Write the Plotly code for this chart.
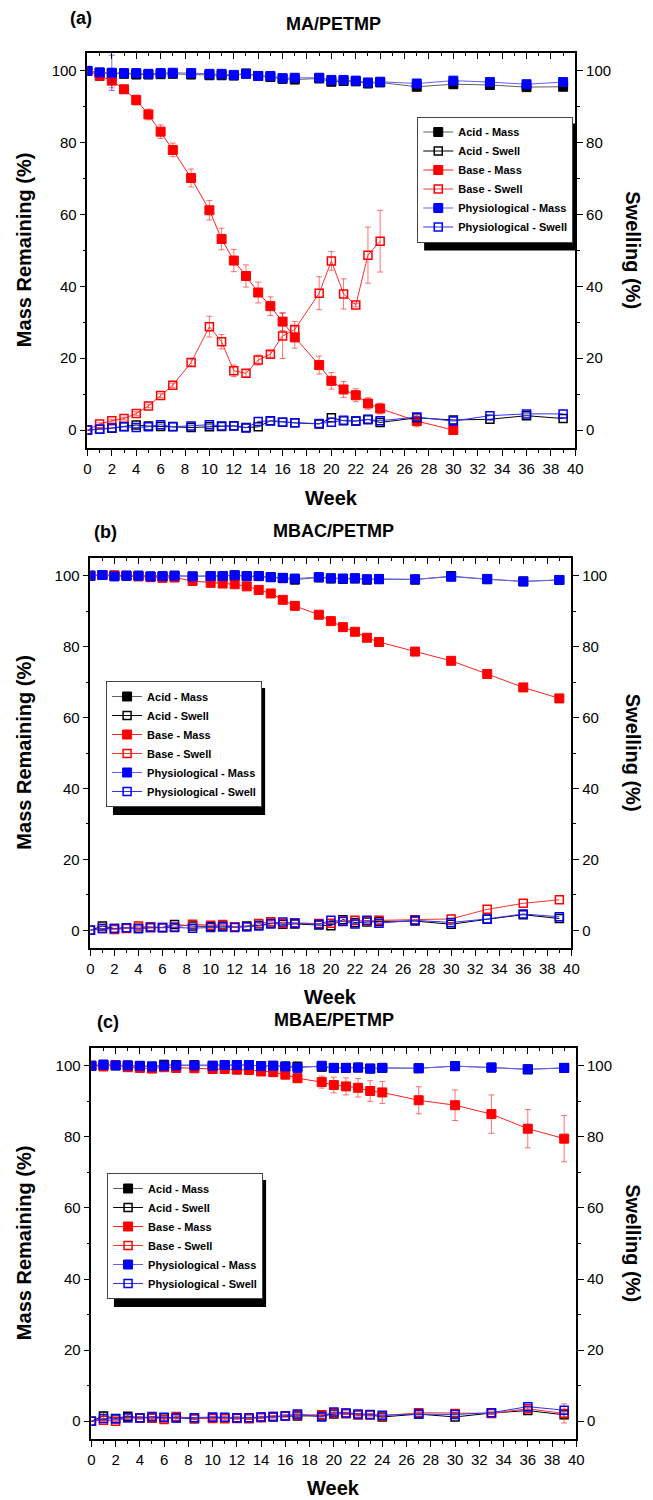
import plotly.graph_objects as go

W, H = 653, 1500

weeks = [0, 1, 2, 3, 4, 5, 6, 7, 8.5, 10, 11, 12, 13, 14, 15, 16, 17, 19, 20, 21, 22, 23, 24, 27, 30, 33, 36, 39]

# ---------------- Panel (a) MA/PETMP ----------------
a_acid_mass = [100, 99.5, 99.3, 99.2, 99.0, 99.0, 99.1, 99.2, 99.0, 98.8, 98.8, 98.7, 99.3, 98.6, 98.3, 97.8, 97.6, 97.9, 97.0, 97.2, 97.1, 96.5, 96.8, 95.6, 96.3, 96.1, 95.5, 95.6]
a_acid_swell = [0, 0.2, 0.5, 1.0, 1.4, 1.1, 1.0, 1.0, 0.7, 0.9, 1.0, 1.2, 0.7, 0.9, 2.6, 2.2, 2.0, 1.7, 3.4, 2.6, 2.5, 3.0, 2.1, 3.4, 2.8, 3.0, 4.0, 3.2]
a_base_mass = [100, 98.6, 97.3, 94.9, 91.9, 87.9, 83.1, 78.0, 70.2, 61.2, 53.2, 47.2, 42.9, 38.3, 34.5, 30.2, 25.8, 18.1, 13.7, 11.3, 9.7, 7.4, 6.0, 2.5, 0, None, None, None]
a_base_mass_err = [0, 0.6, 2.0, 1.0, 1.4, 1.5, 1.9, 1.9, 2.5, 2.7, 3.0, 3.1, 3.1, 2.9, 2.6, 2.5, 3.0, 2.5, 2.3, 2.2, 1.8, 1.6, 1.5, 1.6, 0.3, 0, 0, 0]
a_base_swell = [0, 1.7, 2.6, 3.2, 4.6, 6.7, 9.6, 12.5, 18.8, 28.8, 24.6, 16.5, 15.8, 19.5, 21.1, 26.2, 28.0, 38.1, 47.1, 37.9, 34.8, 48.7, 52.6, None, None, None, None, None]
a_base_swell_err = [0, 0.3, 0.4, 0.4, 0.5, 0.5, 0.5, 0.6, 1.0, 2.9, 2.0, 1.6, 1.0, 1.4, 0.8, 6.3, 2.2, 4.6, 2.6, 4.2, 0.5, 7.8, 8.6, 0, 0, 0, 0, 0]
a_phys_mass = [100, 99.6, 99.5, 99.4, 99.4, 99.2, 99.4, 99.5, 99.4, 99.2, 99.2, 98.9, 99.2, 98.6, 98.6, 98.0, 98.1, 98.1, 97.5, 97.5, 97.3, 96.8, 97.0, 96.5, 97.3, 96.9, 96.3, 96.9]
a_phys_mass_err = [0, 0.3, 4.9, 0.3, 0.3, 0.3, 0.3, 0.3, 0.3, 0.3, 0.3, 0.3, 0.3, 0.3, 0.3, 0.3, 0.3, 0.3, 0.3, 0.3, 0.3, 0.3, 0.3, 0.3, 0.3, 0.3, 0.3, 0.3]
a_phys_swell = [0, 0.2, 0.6, 0.9, 0.7, 0.9, 1.5, 0.9, 1.1, 1.5, 1.1, 1.1, 0.6, 2.4, 2.5, 2.2, 2.0, 1.8, 2.2, 2.7, 2.5, 2.9, 2.6, 3.6, 2.5, 4.0, 4.5, 4.5]

# ---------------- Panel (b) MBAC/PETMP ----------------
b_acid_mass = [100, 100.2, 100.0, 100.0, 100.0, 99.8, 99.8, 100.0, 99.8, 99.9, 99.9, 100.1, 99.9, 99.9, 99.6, 99.3, 98.9, 99.5, 99.2, 99.1, 99.2, 98.9, 99.0, 98.9, 99.9, 99.0, 98.4, 98.8]
b_acid_swell = [0, 1.2, 0.5, 0.7, 0.6, 0.8, 0.8, 1.6, 1.2, 1.1, 1.2, 1.0, 1.2, 1.4, 2.0, 1.7, 1.8, 1.5, 1.3, 3.0, 2.2, 2.3, 2.5, 2.6, 1.7, 3.1, 4.4, 3.3]
b_base_mass = [100, 100.2, 100.1, 100.0, 99.8, 99.6, 99.4, 99.5, 98.5, 98.0, 97.8, 97.6, 97.0, 96.0, 95.0, 93.2, 91.5, 89.0, 87.2, 85.5, 84.2, 82.5, 81.3, 78.6, 76.0, 72.3, 68.5, 65.4]
b_base_mass_err = [0, 0.2, 0.2, 0.2, 0.3, 0.3, 0.3, 0.3, 0.8, 0.8, 1.0, 0.8, 0.8, 1.2, 0.5, 0.4, 0.4, 0.4, 0.4, 0.4, 0.4, 0.4, 0.4, 0.4, 0.4, 0.4, 0.4, 0.4]
b_base_swell = [0, 0.5, 0.2, 0.5, 1.2, 1.0, 0.8, 0.9, 1.7, 1.4, 1.6, 1.0, 1.0, 1.9, 2.4, 1.9, 2.1, 1.9, 2.0, 2.6, 2.8, 2.6, 2.8, 3.0, 3.2, 5.9, 7.6, 8.6]
b_phys_mass = [100, 100.2, 99.8, 100.0, 100.0, 99.8, 99.9, 100.0, 99.8, 99.9, 99.9, 100.1, 99.9, 99.9, 99.6, 99.4, 99.2, 99.6, 99.3, 99.2, 99.3, 99.0, 99.1, 99.0, 99.7, 99.1, 98.4, 98.8]
b_phys_swell = [0, 0.5, 0.5, 0.7, 0.4, 0.8, 0.7, 0.8, 0.6, 0.8, 0.9, 0.8, 1.0, 1.2, 1.8, 2.3, 2.0, 1.7, 2.8, 2.5, 1.8, 2.8, 2.0, 2.8, 2.2, 3.2, 4.6, 3.8]

# ---------------- Panel (c) MBAE/PETMP ----------------
c_acid_mass = [100, 100.3, 100.1, 100.1, 99.9, 99.8, 100.3, 100.2, 100.2, 100.0, 100.2, 100.2, 100.2, 99.9, 100.0, 99.8, 99.8, 99.7, 99.4, 99.4, 99.5, 99.2, 99.4, 99.3, 99.9, 99.5, 99.0, 99.4]
c_acid_swell = [0, 1.5, 0.8, 1.4, 1.0, 0.9, 1.0, 1.0, 0.7, 1.0, 1.0, 1.0, 0.8, 1.1, 1.2, 1.5, 1.5, 1.5, 2.0, 2.2, 1.8, 1.8, 1.2, 2.0, 1.2, 2.3, 3.0, 1.8]
c_acid_swell_err = [0, 1.0, 0.3, 0.3, 0.3, 0.3, 0.3, 0.3, 0.3, 0.3, 0.3, 0.3, 0.3, 0.3, 0.3, 0.3, 0.3, 0.3, 0.3, 0.3, 0.3, 0.3, 0.3, 0.3, 0.3, 0.3, 0.3, 0.5]
c_base_mass = [100, 99.8, 100.2, 99.6, 99.4, 99.2, 99.6, 99.4, 99.3, 99.1, 99.1, 98.9, 98.8, 98.4, 98.2, 97.5, 96.5, 95.4, 94.6, 94.2, 93.8, 92.9, 92.5, 90.3, 88.9, 86.4, 82.3, 79.5]
c_base_mass_err = [0, 0.3, 0.3, 0.3, 0.3, 0.3, 0.3, 0.3, 0.3, 0.3, 0.3, 0.3, 0.3, 0.3, 0.4, 0.8, 1.2, 1.7, 2.2, 2.4, 2.6, 2.9, 3.1, 3.8, 4.3, 5.4, 5.4, 6.5]
c_base_swell = [0, 0.3, 0.0, 1.0, 0.9, 1.0, 0.5, 1.3, 0.8, 0.8, 0.7, 0.8, 0.8, 1.0, 1.3, 1.5, 1.8, 1.8, 2.3, 2.2, 1.8, 1.8, 1.5, 2.4, 2.2, 2.2, 3.5, 2.2]
c_base_swell_err = [0, 0.3, 0.3, 0.3, 0.3, 0.3, 0.3, 0.3, 0.3, 0.3, 0.3, 0.3, 0.3, 0.3, 0.3, 0.3, 0.3, 0.3, 0.3, 0.3, 0.3, 0.3, 0.3, 0.3, 0.3, 0.3, 0.5, 2.7]
c_phys_mass = [100, 100.3, 100.1, 100.1, 100.0, 99.8, 100.0, 100.1, 100.1, 100.0, 100.2, 100.2, 100.2, 99.9, 100.0, 99.8, 99.4, 100.0, 99.4, 99.4, 99.5, 99.2, 99.4, 99.3, 99.9, 99.5, 99.0, 99.4]
c_phys_swell = [0, 0.75, 0.6, 1.0, 0.9, 1.3, 1.1, 0.9, 1.0, 1.2, 1.1, 0.9, 1.0, 1.2, 1.3, 1.5, 2.0, 1.2, 2.6, 2.3, 2.0, 1.9, 1.7, 2.0, 1.9, 2.4, 4.1, 3.1]

titles = ["MA/PETMP", "MBAC/PETMP", "MBAE/PETMP"]
panel_tags = ["(a)", "(b)", "(c)"]
series_names = ["Acid - Mass", "Acid - Swell", "Base - Mass", "Base - Swell",
                "Physiological - Mass", "Physiological - Swell"]

# ---------------- layout geometry (pixels) ----------------
frames = [(85, 582, 53, 448), (88, 578, 558, 948), (89, 583, 1048, 1439)]
legend_box = [(421, 134, 576, 227), (104, 699, 256, 791), (105, 1191, 258, 1283)]
LEG_H = 128
LEG_W = 155
tag_pos = [(78, 18), (103, 532), (106, 1022)]
title_y = [24, 531, 1020]
week_y = [498, 997, 1488]

FONT = "Arial, Liberation Sans, sans-serif"

def px(x):
    return x / W

def py(y):
    return 1 - y / H

fig = go.Figure()

panels = [
    dict(acid_mass=a_acid_mass, acid_swell=a_acid_swell, base_mass=a_base_mass,
         base_swell=a_base_swell, phys_mass=a_phys_mass, phys_swell=a_phys_swell,
         base_mass_err=a_base_mass_err, base_swell_err=a_base_swell_err,
         phys_mass_err=a_phys_mass_err, acid_swell_err=None),
    dict(acid_mass=b_acid_mass, acid_swell=b_acid_swell, base_mass=b_base_mass,
         base_swell=b_base_swell, phys_mass=b_phys_mass, phys_swell=b_phys_swell,
         base_mass_err=b_base_mass_err, base_swell_err=None,
         phys_mass_err=None, acid_swell_err=None),
    dict(acid_mass=c_acid_mass, acid_swell=c_acid_swell, base_mass=c_base_mass,
         base_swell=c_base_swell, phys_mass=c_phys_mass, phys_swell=c_phys_swell,
         base_mass_err=c_base_mass_err, base_swell_err=c_base_swell_err,
         phys_mass_err=None, acid_swell_err=c_acid_swell_err),
]

styles = {
    "acid_mass": dict(line="#606060", mk="#000000", sym="square"),
    "acid_swell": dict(line="#000000", mk="#000000", sym="square-open"),
    "base_mass": dict(line="#FF2020", mk="#FF0000", sym="square"),
    "base_swell": dict(line="#FF3030", mk="#FF0000", sym="square-open"),
    "phys_mass": dict(line="#6060FF", mk="#0000FF", sym="square"),
    "phys_swell": dict(line="#3030FF", mk="#0000FF", sym="square-open"),
}
err_cols = {"acid": "rgba(0,0,0,0.45)", "base": "rgba(255,0,0,0.55)", "phys": "rgba(0,0,255,0.55)"}

keys = ["acid_mass", "acid_swell", "base_mass", "base_swell", "phys_mass", "phys_swell"]

layout_axes = {}
for i, p in enumerate(panels):
    n = 2 * i + 1
    xb, xt = ("x" if n == 1 else f"x{n}"), f"x{n+1}"
    yl, yr = ("y" if n == 1 else f"y{n}"), f"y{n+1}"
    leg = "legend" if i == 0 else f"legend{i+1}"
    for k, name in zip(keys, series_names):
        st = styles[k]
        is_swell = k.endswith("swell")
        err = p.get(k + "_err")
        ekw = {}
        if err is not None:
            ekw = dict(error_y=dict(type="data", array=err, visible=True,
                                    color=err_cols[k.split("_")[0]], thickness=1, width=3))
        fig.add_trace(go.Scatter(
            x=weeks, y=p[k], name=name, legend=leg,
            xaxis=(xt if is_swell else xb), yaxis=(yr if is_swell else yl),
            mode="lines+markers",
            line=dict(color=st["line"], width=1),
            marker=dict(symbol=st["sym"], size=9 if not is_swell else 8,
                        color=st["mk"], line=dict(color=st["mk"], width=1.5 if is_swell else 1)),
            **ekw,
        ))

    L, R, T, B = frames[i]
    dx = [px(L), px(R)]
    dy = [py(B), py(T)]
    common_x = dict(range=[0, 40], domain=dx, showline=True, linecolor="black", linewidth=1.5,
                    showgrid=False, zeroline=False, dtick=2, tick0=0, tickcolor="black",
                    tickwidth=1.2, ticklen=6,
                    minor=dict(dtick=1, ticklen=3, tickcolor="black", tickwidth=1.2, ticks=""),
                    tickfont=dict(family=FONT, size=15, color="black"))
    xa = dict(common_x, anchor=yl, side="bottom", ticks="outside")
    xa["minor"] = dict(common_x["minor"], ticks="outside")
    xa2 = dict(common_x, anchor=yr, side="top", overlaying=xb, ticks="inside", showticklabels=False)
    xa2["minor"] = dict(common_x["minor"], ticks="inside")
    common_y = dict(range=[-5, 105], domain=dy, showline=True, linecolor="black", linewidth=1.5,
                    showgrid=False, zeroline=False, dtick=20, tick0=0, tickcolor="black",
                    tickwidth=1.2, ticklen=6, ticks="outside",
                    minor=dict(dtick=10, ticklen=3, tickcolor="black", tickwidth=1.2, ticks="outside"),
                    tickfont=dict(family=FONT, size=15, color="black"))
    ya = dict(common_y, anchor=xb, side="left")
    ya2 = dict(common_y, anchor=xt, side="right", overlaying=yl)
    layout_axes["xaxis" if n == 1 else f"xaxis{n}"] = xa
    layout_axes[f"xaxis{n+1}"] = xa2
    layout_axes["yaxis" if n == 1 else f"yaxis{n}"] = ya
    layout_axes[f"yaxis{n+1}"] = ya2

    bl, bt, br, bb = legend_box[i]
    top = (bt + bb) / 2 - LEG_H / 2
    layout_axes[leg] = dict(x=px(bl), y=py(top), xanchor="left", yanchor="top",
                            bgcolor="white", bordercolor="#444444", borderwidth=1,
                            font=dict(family=FONT, size=11, color="black", weight="bold"),
                            itemwidth=30, tracegroupgap=0)

fig.update_layout(**layout_axes)

annotations = []
shapes = []

def ann(text, x, y, size, angle=0):
    return dict(text=text, x=px(x), y=py(y), xref="paper", yref="paper",
                xanchor="center", yanchor="middle", showarrow=False, textangle=angle,
                font=dict(family=FONT, size=size, color="black"))

for i in range(3):
    L, R, T, B = frames[i]
    cx = (L + R) / 2
    cy = (T + B) / 2
    tx, ty = tag_pos[i]
    annotations.append(ann("<b>%s</b>" % panel_tags[i], tx, ty, 18))
    annotations.append(ann("<b>%s</b>" % titles[i], 336, title_y[i], 18))
    annotations.append(ann("<b>Week</b>", cx, week_y[i], 20))
    annotations.append(ann("<b>Mass Remaining (%)</b>", 20, cy, 20, -90))
    annotations.append(ann("<b>Swelling (%)</b>", 641, cy, 20, 90))
    # legend drop shadow
    bl, bt, br, bb = legend_box[i]
    top = (bt + bb) / 2 - LEG_H / 2
    shapes.append(dict(type="rect", xref="paper", yref="paper",
                       x0=px(bl + 7), x1=px(bl + LEG_W + 7), y0=py(top + LEG_H + 6), y1=py(top + 7),
                       fillcolor="black", line=dict(width=0), layer="above"))

fig.update_layout(
    width=W, height=H, autosize=False,
    margin=dict(l=0, r=0, t=0, b=0),
    paper_bgcolor="white", plot_bgcolor="white",
    annotations=annotations, shapes=shapes,
    showlegend=True,
    font=dict(family=FONT, color="black"),
)

fig.write_html("out.html")
